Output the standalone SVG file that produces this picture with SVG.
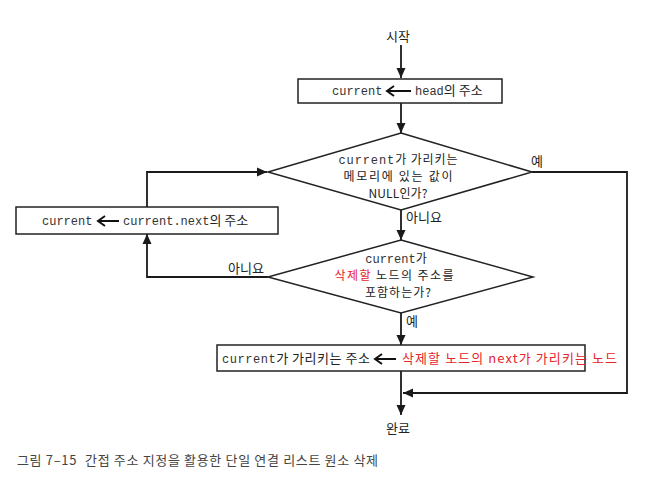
<svg xmlns="http://www.w3.org/2000/svg" width="665" height="485" viewBox="0 0 665 485">
<defs>
<marker id="ah" markerWidth="10" markerHeight="14" refX="10" refY="7" orient="auto" markerUnits="userSpaceOnUse">
<path d="M0,2.5 L10,7 L0,11.5 Z" fill="#1a1a1a"/>
</marker>
<style>
.k{font-family:"Noto Sans CJK KR","Noto Sans",sans-serif;font-size:13px;fill:#222}
.d{font-size:12px}
.m{font-family:"Liberation Mono","DejaVu Sans Mono",monospace;font-size:12px;fill:#333}
.r{fill:#e8232b}
.box{fill:#fff;stroke:#222;stroke-width:1.5}
.dia{fill:#fff;stroke:#222;stroke-width:1.5}
.arr{fill:none;stroke:#1a1a1a;stroke-width:1.8;marker-end:url(#ah)}
.ta{fill:none;stroke:#111;stroke-width:2}
.cap{font-family:"Noto Sans CJK KR","Noto Sans",sans-serif;font-size:13px;fill:#444}
</style>
</defs>
<rect width="665" height="485" fill="#fff"/>

<g id="connectors">
<line class="arr" x1="401" y1="45" x2="401" y2="78"/>
<line class="arr" x1="401" y1="103" x2="401" y2="133"/>
<line class="arr" x1="401" y1="210" x2="401" y2="240"/>
<line class="arr" x1="401" y1="313" x2="401" y2="345"/>
<line class="arr" x1="401" y1="371" x2="401" y2="415"/>
<polyline class="arr" points="532,172 627,172 627,393 403,393"/>
<polyline class="arr" points="268,277 147,277 147,234"/>
<polyline class="arr" points="147,207 147,172 267,172"/>
<text class="k" x="537" y="166" text-anchor="middle">예</text>
<text class="k" x="406" y="222">아니요</text>
<text class="k" x="228" y="273">아니요</text>
<text class="k" x="406" y="326">예</text>
</g>

<g id="start">
<text class="k" x="398" y="41" text-anchor="middle">시작</text>
</g>

<g id="init">
<rect class="box" x="298" y="79" width="204" height="24"/>
<text class="m" x="332" y="95">current</text>
<path class="ta" d="M387,91 H411 M394,86 L387,91 L394,96"/>
<text x="415" y="95"><tspan class="m">head</tspan><tspan class="k">의 주소</tspan></text>
</g>

<g id="cond1">
<polygon class="dia" points="401,133 532,172 401,210 268,172"/>
<text x="398" y="163.5" text-anchor="middle" textLength="119" lengthAdjust="spacing"><tspan class="m">current</tspan><tspan class="k d">가 가리키는</tspan></text>
<text class="k d" x="398" y="181" text-anchor="middle" textLength="109" lengthAdjust="spacing">메모리에 있는 값이</text>
<text class="k d" x="398" y="197.5" text-anchor="middle" textLength="59" lengthAdjust="spacing">NULL인가?</text>
</g>

<g id="advance">
<rect class="box" x="16" y="207" width="262" height="27"/>
<text class="m" x="42" y="225">current</text>
<path class="ta" d="M98,221 H119 M105,216 L98,221 L105,226"/>
<text x="123" y="225"><tspan class="m">current.next</tspan><tspan class="k">의 주소</tspan></text>
</g>

<g id="cond2">
<polygon class="dia" points="401,240 533,277 401,313 268,277"/>
<text x="396" y="263" text-anchor="middle"><tspan class="m">current</tspan><tspan class="k d">가</tspan></text>
<text class="k d" x="394" y="280" text-anchor="middle" textLength="119" lengthAdjust="spacing"><tspan class="r">삭제할</tspan> 노드의 주소를</text>
<text class="k d" x="398" y="296.5" text-anchor="middle" textLength="66" lengthAdjust="spacing">포함하는가?</text>
</g>

<g id="relink">
<rect class="box" x="217" y="345" width="368" height="26"/>
<text x="222" y="363" textLength="148" lengthAdjust="spacing"><tspan class="m">current</tspan><tspan class="k">가 가리키는 주소</tspan></text>
<path class="ta" d="M375,359 H396 M382,354 L375,359 L382,364"/>
<text class="k r" x="402" y="363" textLength="215" lengthAdjust="spacing">삭제할 노드의 next가 가리키는 노드</text>
</g>

<g id="end">
<text class="k" x="398" y="433" text-anchor="middle">완료</text>
</g>

<text class="cap" x="17" y="465" textLength="361" lengthAdjust="spacing">그림 7–15<tspan dx="8">간접 주소 지정을 활용한 단일 연결 리스트 원소 삭제</tspan></text>
</svg>
